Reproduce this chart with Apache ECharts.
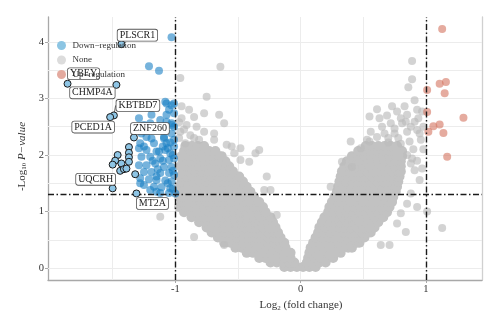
<!DOCTYPE html>
<html>
<head>
<meta charset="utf-8">
<script src="https://cdn.jsdelivr.net/npm/echarts@6/dist/echarts.min.js"></script>
<style>
  html, body { margin: 0; padding: 0; background: #fff; }
  #chart { width: 500px; height: 326px; }
</style>
</head>
<body>
<div id="chart"></div>
<script>
// Volcano plot: log2 fold change vs -log10 p-value

// Non-significant genes, dense cloud: each row is [-log10 p, log2FC, log2FC, ...]
const noneRows = [
  [0.02, -0.13,-0.08,-0.03,0.02,0.07,0.12],
  [0.10, -0.24,-0.19,-0.14,-0.09,-0.05, 0.05,0.1,0.15,0.2],
  [0.18, -0.33,-0.28,-0.23,-0.18,-0.13,-0.08, 0.06,0.11,0.16,0.21,0.26],
  [0.27, -0.43,-0.38,-0.33,-0.28,-0.23,-0.18,-0.13,-0.08, 0.07,0.12,0.17,0.22,0.27,0.32],
  [0.36, -0.52,-0.47,-0.42,-0.37,-0.32,-0.27,-0.22,-0.17,-0.12, 0.08,0.13,0.18,0.23,0.28,0.33,0.38,0.41],
  [0.45, -0.61,-0.56,-0.51,-0.46,-0.41,-0.36,-0.31,-0.26,-0.21,-0.16,-0.13, 0.1,0.15,0.2,0.25,0.3,0.35,0.4,0.45,0.47],
  [0.54, -0.66,-0.61,-0.56,-0.51,-0.46,-0.41,-0.36,-0.31,-0.26,-0.21,-0.16, 0.12,0.17,0.22,0.27,0.32,0.37,0.42,0.47,0.51],
  [0.63, -0.71,-0.66,-0.61,-0.56,-0.51,-0.46,-0.41,-0.36,-0.31,-0.26,-0.21,-0.18, 0.14,0.19,0.24,0.29,0.34,0.39,0.44,0.49,0.54,0.56],
  [0.72, -0.75,-0.7,-0.65,-0.6,-0.55,-0.5,-0.45,-0.4,-0.35,-0.3,-0.25,-0.2, 0.15,0.2,0.25,0.3,0.35,0.4,0.45,0.5,0.55,0.59],
  [0.81, -0.81,-0.76,-0.71,-0.66,-0.61,-0.56,-0.51,-0.46,-0.41,-0.36,-0.31,-0.26,-0.22, 0.17,0.22,0.27,0.32,0.37,0.42,0.47,0.52,0.57,0.62],
  [0.90, -0.87,-0.82,-0.77,-0.72,-0.67,-0.62,-0.57,-0.52,-0.47,-0.42,-0.37,-0.32,-0.27,-0.24, 0.19,0.24,0.29,0.34,0.39,0.44,0.49,0.54,0.59,0.64,0.66],
  [0.99, -0.93,-0.88,-0.83,-0.78,-0.73,-0.68,-0.63,-0.58,-0.53,-0.48,-0.43,-0.38,-0.33,-0.28, 0.22,0.27,0.32,0.37,0.42,0.47,0.52,0.57,0.62,0.67,0.69],
  [1.08, -0.97,-0.92,-0.87,-0.82,-0.77,-0.72,-0.67,-0.62,-0.57,-0.52,-0.47,-0.42,-0.37,-0.32,-0.3, 0.23,0.28,0.33,0.38,0.43,0.48,0.53,0.58,0.63,0.68,0.71],
  [1.17, -0.95,-0.9,-0.85,-0.8,-0.75,-0.7,-0.65,-0.6,-0.55,-0.5,-0.45,-0.4,-0.35,-0.33, 0.25,0.3,0.35,0.4,0.45,0.5,0.55,0.6,0.65,0.7,0.73],
  [1.26, -0.97,-0.92,-0.87,-0.82,-0.77,-0.72,-0.67,-0.62,-0.57,-0.52,-0.47,-0.42,-0.37, 0.27,0.32,0.37,0.42,0.47,0.52,0.57,0.62,0.67,0.72,0.74],
  [1.35, -0.95,-0.9,-0.85,-0.8,-0.75,-0.7,-0.65,-0.6,-0.55,-0.5,-0.45,-0.4, 0.29,0.34,0.39,0.44,0.49,0.54,0.59,0.64,0.69,0.74,0.76],
  [1.44, -0.97,-0.92,-0.87,-0.82,-0.77,-0.72,-0.67,-0.62,-0.57,-0.52,-0.47,-0.43, 0.3,0.35,0.4,0.45,0.5,0.55,0.6,0.65,0.7,0.75,0.77],
  [1.53, -0.95,-0.9,-0.85,-0.8,-0.75,-0.7,-0.65,-0.6,-0.55,-0.5,-0.46, 0.31,0.36,0.41,0.46,0.51,0.56,0.61,0.66,0.71,0.76,0.78],
  [1.62, -0.96,-0.91,-0.86,-0.81,-0.76,-0.71,-0.66,-0.61,-0.56,-0.51,-0.49, 0.32,0.37,0.42,0.47,0.52,0.57,0.62,0.67,0.72,0.77,0.79],
  [1.71, -0.94,-0.89,-0.84,-0.79,-0.74,-0.69,-0.64,-0.59,-0.54, 0.33,0.38,0.43,0.48,0.53,0.58,0.63,0.68,0.73,0.78,0.8],
  [1.80, -0.96,-0.91,-0.86,-0.81,-0.76,-0.71,-0.66,-0.61,-0.57, 0.35,0.4,0.45,0.5,0.55,0.6,0.65,0.7,0.75,0.8],
  [1.89, -0.94,-0.89,-0.84,-0.79,-0.74,-0.69,-0.64,-0.6, 0.37,0.42,0.47,0.52,0.57,0.62,0.67,0.72,0.77,0.8],
  [1.98, -0.95,-0.9,-0.85,-0.8,-0.75,-0.7,-0.65,-0.63, 0.41,0.46,0.51,0.56,0.61,0.66,0.71,0.76,0.81],
  [2.07, -0.93,-0.88,-0.83,-0.78,-0.73,-0.68, 0.46,0.51,0.56,0.61,0.66,0.71,0.76,0.81],
  [2.16, -0.92,-0.87,-0.82,-0.77, 0.52,0.57,0.62,0.67,0.72,0.77]
];

// Non-significant genes outside the dense cloud: [log2FC, -log10 p]
const noneLoose = [
  [-1.12,0.91],[-0.85,0.55],[-0.61,0.41],[-0.19,0.94],[-0.24,1.38],[-0.29,1.38],[-0.27,1.62],
  [-0.41,1.88],[-0.48,1.91],[-0.36,2.03],[-0.33,2.09],[-0.53,2.03],[-0.48,2.12],[-0.55,2.15],
  [-0.59,2.18],[-0.92,2.21],[-0.81,2.27],[-0.69,2.27],[-0.88,2.35],[-0.69,2.38],[-0.96,2.41],
  [-0.77,2.41],[-0.83,2.5],[-0.91,2.53],[-0.61,2.56],[-0.95,2.65],[-0.85,2.67],[-0.65,2.71],
  [-0.77,2.74],[-0.89,2.8],[-0.95,2.86],[-0.75,3.03],[-0.96,3.36],[-0.64,3.56],[-0.97,2.3],
  [-0.85,2.3],[-0.93,2.45],[-0.97,2.58],
  [0.64,0.41],[0.71,0.41],[0.84,0.64],[0.77,0.79],[0.8,0.97],[0.85,1.14],[0.93,1.08],[0.88,1.32],
  [1.13,0.71],[1.01,1.0],[0.95,1.56],[0.91,1.73],[0.97,1.76],[0.89,1.94],[0.24,1.44],[0.33,1.88],
  [0.41,1.79],[0.4,2.24],[0.55,2.24],[0.61,2.32],[0.53,2.27],[0.48,2.12],[0.56,2.41],[0.67,2.38],
  [0.75,2.38],[0.85,2.41],[0.95,2.38],[0.87,2.24],[0.96,2.27],[0.63,2.65],[0.72,2.56],[0.81,2.56],
  [0.91,2.59],[0.84,2.59],[0.93,2.44],[0.55,2.68],[0.61,2.81],[0.73,2.86],[0.83,2.86],[0.77,2.77],
  [0.85,2.71],[0.93,2.8],[0.97,2.77],[0.91,2.97],[0.86,3.2],[0.89,3.34],[0.89,3.66],[0.7,2.22],
  [0.8,2.2],[0.9,2.1],[0.85,2.0],[0.88,1.85],[0.7,2.3],[0.78,2.3],[0.65,2.5],[0.75,2.47],
  [0.88,2.5],[0.94,2.65],[0.8,2.65],[0.69,2.7],[0.98,2.5],[0.98,2.1],[0.93,1.9]
];

// Down-regulated genes: [log2FC, -log10 p]
const downPoints = [
  [-1.03,4.08],[-1.21,3.57],[-1.13,3.49],
  [-1.08,2.94],[-1.01,2.91],[-1.07,2.91],[-1.03,2.88],[-1.05,2.8],[-1.01,2.74],[-1.19,2.71],
  [-1.07,2.71],[-1.29,2.65],[-1.12,2.62],[-1.07,2.59],[-1.03,2.56],[-1.2,2.56],[-1.25,2.53],
  [-1.03,2.53],[-1.01,2.5],[-1.17,2.5],[-1.15,2.44],[-1.27,2.38],[-1.03,2.38],[-1.09,2.32],
  [-1.23,2.32],[-1.19,2.29],[-1.09,2.29],[-1.01,2.27],[-1.28,2.21],[-1.17,2.21],[-1.07,2.21],
  [-1.25,2.15],[-1.01,2.15],[-1.29,2.12],[-1.23,2.09],[-1.08,2.09],[-1.15,2.06],[-1.13,2.06],
  [-1.04,2.03],[-1.27,1.97],[-1.2,1.97],[-1.12,1.94],[-1.01,1.94],[-1.05,1.91],[-1.29,1.82],
  [-1.23,1.82],[-1.16,1.85],[-1.09,1.79],[-1.03,1.79],[-1.25,1.7],[-1.19,1.7],[-1.12,1.68],
  [-1.05,1.68],[-1.01,1.65],[-1.28,1.59],[-1.21,1.57],[-1.15,1.56],[-1.08,1.55],[-1.03,1.53],
  [-1.28,1.5],[-1.25,1.47],[-1.17,1.44],[-1.11,1.43],[-1.04,1.41],[-1.2,1.38],[-1.15,1.35],
  [-1.12,1.33],[-1.05,1.33],[-1.0,1.32],[-1.02,2.0],[-1.06,2.12],[-1.02,1.72],[-1.06,1.5],
  [-1.02,1.4],[-1.1,1.9],[-1.14,1.75],[-1.1,2.15],[-1.04,2.22],[-1.18,1.9],[-1.15,1.62]
];

// Up-regulated genes: [log2FC, -log10 p]
const upPoints = [
  [1.13,4.23],[1.11,3.26],[1.16,3.29],[1.15,3.09],[1.01,3.15],[1.01,2.76],
  [1.30,2.66],[1.06,2.51],[1.11,2.54],[1.14,2.39],[1.02,2.41],[1.17,1.97]
];

// Most strongly down-regulated genes, outlined: [log2FC, -log10 p] and gene names
const markedPoints = [
  [-1.43,3.96],[-1.86,3.26],[-1.47,3.24],[-1.49,2.70],[-1.52,2.67],[-1.33,2.31],
  [-1.37,2.14],[-1.37,2.04],[-1.37,1.96],[-1.46,2.00],[-1.48,1.90],[-1.50,1.83],
  [-1.43,1.85],[-1.37,1.88],[-1.44,1.72],[-1.41,1.75],[-1.39,1.76],[-1.32,1.66],
  [-1.50,1.41],[-1.31,1.32]
];
const markedNames = [
  'PLSCR1','YBEY','CHMP4A','KBTBD7','PCED1A','ZNF260',
  '','','','','','','','','','','','',
  'UQCRH','MT2A'
];

// Axis breaks
const xTicks = [-1, 0, 1];
const yTicks = [0, 1, 2, 3, 4];
const xGrid = [-1.5, -1, -0.5, 0, 0.5, 1];
const yGrid = [0, 0.5, 1, 1.5, 2, 2.5, 3, 3.5, 4];

// Cut-offs
const fcCut = 1;
const pCut = 0.05;

// Label placement (px from the point)
const labelNudge = {
  PLSCR1: [16, -9], YBEY: [16, -10], CHMP4A: [-24, 8], KBTBD7: [24, -10],
  PCED1A: [-17, 10], ZNF260: [16, -9], UQCRH: [-17, -9], MT2A: [16, 10]
};

const serif = 'Liberation Serif';
const noneDense = noneRows.flatMap(([y, ...xs]) => xs.map(x => [x, y]));
const markedData = markedPoints.map((p, i) => {
  const name = markedNames[i];
  const item = { value: p, name: name, label: { show: !!name } };
  if (name === 'KBTBD7') item.labelLine = { show: true, lineStyle: { color: '#333', width: 0.8 } };
  return item;
});

const xMin = -2.016, xMax = 1.448, yMin = -0.21, yMax = 4.44;

const chart = echarts.init(document.getElementById('chart'), null, { renderer: 'canvas' });
chart.setOption({
  animation: false,
  backgroundColor: '#fff',
  grid: { left: 48, right: 18, top: 17, bottom: 46 },
  legend: {
    left: 52, top: 36, orient: 'vertical', z: 10,
    itemWidth: 12, itemHeight: 9, itemGap: 5.5, icon: 'circle',
    textStyle: { fontFamily: serif, fontSize: 9, color: '#333', lineHeight: 9 },
    data: [
      { name: 'Down\u2212regulation', itemStyle: { color: '#8cc5e3', opacity: 1, borderWidth: 0 } },
      { name: 'None', itemStyle: { color: '#dcdcdc', opacity: 1, borderWidth: 0 } },
      { name: 'Up\u2212regulation', itemStyle: { color: '#e4aa9f', opacity: 1, borderWidth: 0 } }
    ]
  },
  xAxis: {
    type: 'value', min: xMin, max: xMax,
    splitLine: { show: false },
    axisLine: { onZero: false, lineStyle: { color: '#a8a8a8', width: 1.3 } },
    axisTick: { customValues: xTicks, length: 3, lineStyle: { color: '#a8a8a8' } },
    axisLabel: { customValues: xTicks, margin: 4, color: '#333', fontFamily: serif, fontSize: 10.5,
      formatter: v => String(v) },
    name: '{n|Log}{s|2}{n| (fold change)}',
    nameLocation: 'middle', nameGap: 18,
    nameTextStyle: {
      padding: [0, 0, 0, 72],
      rich: {
        n: { fontFamily: serif, fontSize: 11, color: '#333' },
        s: { fontFamily: serif, fontSize: 7, color: '#333', verticalAlign: 'bottom', padding: [5, 0, 0, 0] }
      }
    }
  },
  yAxis: [{
    type: 'value', min: yMin, max: yMax,
    splitLine: { show: false },
    axisLine: { show: true, onZero: false, lineStyle: { color: '#a8a8a8', width: 1.3 } },
    axisTick: { show: true, customValues: yTicks, length: 3, lineStyle: { color: '#a8a8a8' } },
    axisLabel: { customValues: yTicks, margin: 4, color: '#333', fontFamily: serif, fontSize: 10.5 },
    name: '{n|-Log}{s|10}{i| P\u2212value}',
    nameLocation: 'middle', nameGap: 20,
    nameTextStyle: {
      padding: [0, 16, 0, 0],
      rich: {
        n: { fontFamily: serif, fontSize: 11, color: '#333' },
        s: { fontFamily: serif, fontSize: 7, color: '#333', verticalAlign: 'bottom', padding: [5, 0, 0, 0] },
        i: { fontFamily: serif, fontSize: 11, color: '#333', fontStyle: 'italic' }
      }
    }
  }, {
    type: 'value', min: yMin, max: yMax, position: 'right',
    splitLine: { show: false },
    axisLine: { show: true, onZero: false, lineStyle: { color: '#d0d0d0', width: 1.3 } },
    axisTick: { show: false }, axisLabel: { show: false }
  }],
  series: [
    {
      name: 'grid', type: 'scatter', data: [], silent: true,
      markLine: {
        silent: true, symbol: 'none', z: 1, animation: false,
        label: { show: false },
        lineStyle: { color: '#ececec', width: 1, type: 'solid' },
        data: xGrid.map(v => ({ xAxis: v })).concat(yGrid.map(v => ({ yAxis: v })))
      }
    },
    {
      name: 'None', type: 'scatter', z: 2, symbolSize: 10, data: noneDense,
      itemStyle: { color: '#c2c2c2', opacity: 1, borderWidth: 0 }
    },
    {
      name: 'None', type: 'scatter', z: 2, symbolSize: 8, data: noneLoose,
      itemStyle: { color: '#bcbcbc', opacity: 0.65, borderWidth: 0 }
    },
    {
      name: 'Down\u2212regulation', type: 'scatter', z: 2, symbolSize: 8, data: downPoints,
      itemStyle: { color: '#1b80c4', opacity: 0.6, borderWidth: 0 }
    },
    {
      name: 'Up\u2212regulation', type: 'scatter', z: 2, symbolSize: 8, data: upPoints,
      itemStyle: { color: '#d4735f', opacity: 0.6, borderWidth: 0 }
    },
    {
      name: 'thresholds', type: 'scatter', data: [], silent: true,
      markLine: {
        silent: true, symbol: 'none', z: 3, animation: false,
        label: { show: false },
        lineStyle: { color: '#1a1a1a', width: 1.4, type: [6, 2.5, 1.5, 2.5] },
        data: [{ xAxis: -fcCut }, { xAxis: fcCut }, { yAxis: -Math.log10(pCut) }]
      }
    },
    {
      name: 'marked', type: 'scatter', z: 4, symbolSize: 7, data: markedData,
      itemStyle: { color: '#8ec5e5', borderColor: '#1a1a1a', borderWidth: 1, opacity: 1 },
      label: {
        show: true, position: 'inside', formatter: p => p.name,
        fontFamily: serif, fontSize: 10, color: '#222',
        backgroundColor: '#fff', borderColor: '#555', borderWidth: 0.8, borderRadius: 2,
        padding: [1, 2, 0, 2]
      },
      labelLayout: params => {
        const d = labelNudge[markedNames[params.dataIndex]];
        return d ? { dx: d[0], dy: d[1] } : {};
      }
    }
  ]
});
</script>
</body>
</html>
